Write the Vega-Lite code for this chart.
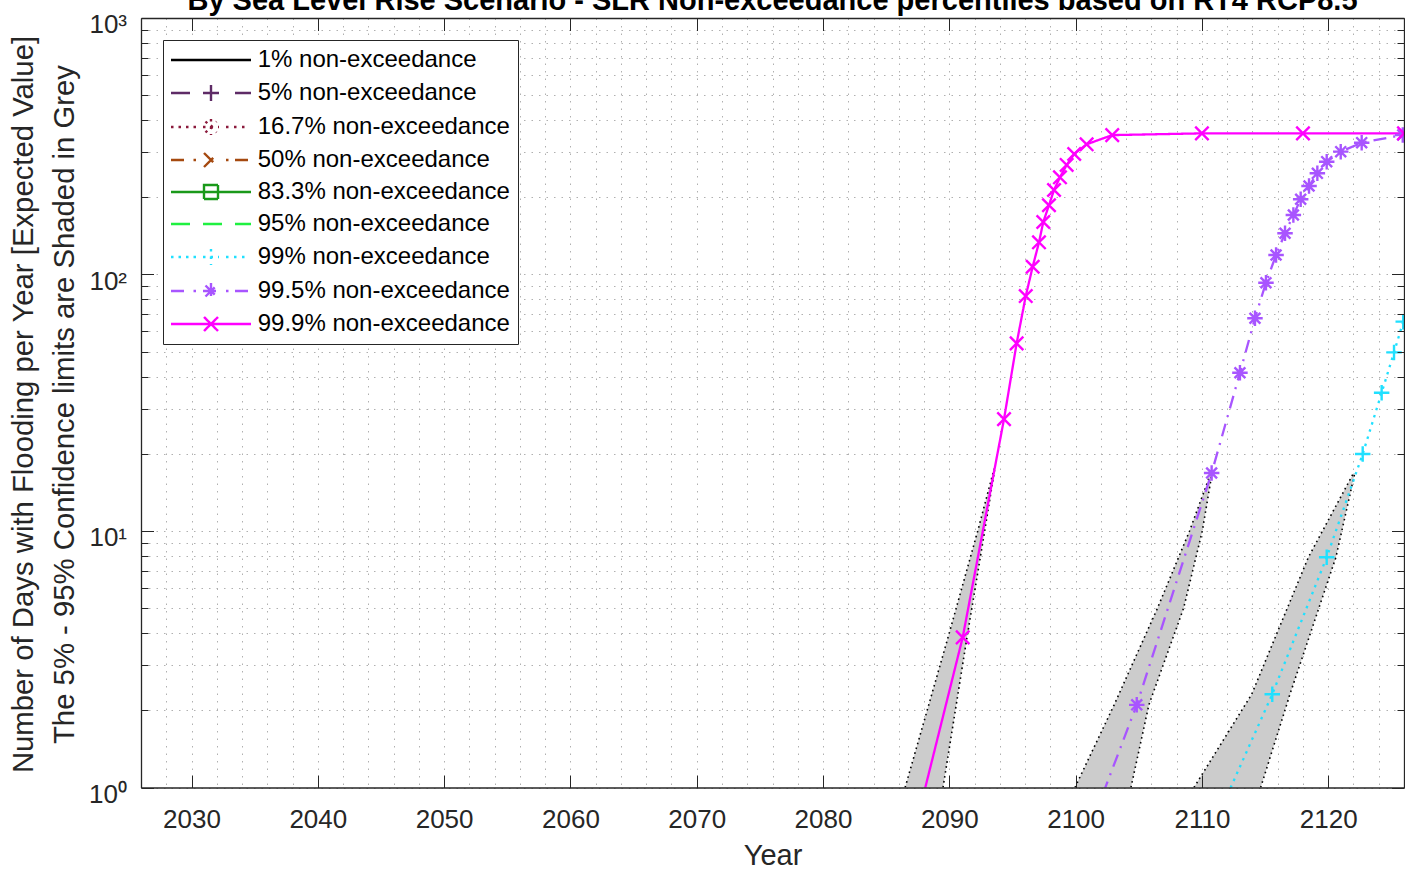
{
  "$schema": "https://vega.github.io/schema/vega-lite/v6.json",
  "width": 1263,
  "height": 769.5,
  "autosize": {"type": "none"},
  "padding": {"left": 141, "top": 18, "right": 1, "bottom": 81.5},
  "background": "white",
  "title": {
    "text": "By Sea Level Rise Scenario - SLR Non-exceedance percentiles based on RT4 RCP8.5",
    "font": "Liberation Sans", "fontSize": 29, "fontWeight": "bold", "color": "black",
    "anchor": "middle", "baseline": "alphabetic", "offset": -27.5
  },
  "config": {
    "view": {"stroke": null},
    "font": "Liberation Sans",
    "legend": {
      "padding": 8, "fillColor": "white", "strokeColor": "#262626", "strokeWidth": 1, "cornerRadius": 0,
      "labelFont": "Liberation Sans", "labelFontSize": 24, "labelColor": "black", "labelLimit": 600,
      "labelOffset": 62.7, "symbolSize": 400, "symbolStrokeWidth": 2.4, "rowPadding": 8
    }
  },
  "datasets": {
    "lines": [
      {"series": "99.9% non-exceedance", "year": 2086.5, "days": 0.483},
      {"series": "99.9% non-exceedance", "year": 2091.06, "days": 3.85},
      {"series": "99.9% non-exceedance", "year": 2094.33, "days": 27.3},
      {"series": "99.9% non-exceedance", "year": 2095.33, "days": 53.9},
      {"series": "99.9% non-exceedance", "year": 2096.05, "days": 82.4},
      {"series": "99.9% non-exceedance", "year": 2096.6, "days": 107.2},
      {"series": "99.9% non-exceedance", "year": 2097.1, "days": 133.5},
      {"series": "99.9% non-exceedance", "year": 2097.44, "days": 160.2},
      {"series": "99.9% non-exceedance", "year": 2097.89, "days": 186.2},
      {"series": "99.9% non-exceedance", "year": 2098.29, "days": 213.5},
      {"series": "99.9% non-exceedance", "year": 2098.76, "days": 239.3},
      {"series": "99.9% non-exceedance", "year": 2099.29, "days": 267.3},
      {"series": "99.9% non-exceedance", "year": 2099.89, "days": 295.0},
      {"series": "99.9% non-exceedance", "year": 2100.87, "days": 321.8},
      {"series": "99.9% non-exceedance", "year": 2102.9, "days": 349.5},
      {"series": "99.9% non-exceedance", "year": 2110.0, "days": 355},
      {"series": "99.9% non-exceedance", "year": 2118.0, "days": 355},
      {"series": "99.9% non-exceedance", "year": 2126.0, "days": 355},
      {"series": "99.5% non-exceedance", "year": 2098.9, "days": 0.357},
      {"series": "99.5% non-exceedance", "year": 2104.84, "days": 2.10},
      {"series": "99.5% non-exceedance", "year": 2110.77, "days": 16.83},
      {"series": "99.5% non-exceedance", "year": 2113.01, "days": 41.4},
      {"series": "99.5% non-exceedance", "year": 2114.2, "days": 67.5},
      {"series": "99.5% non-exceedance", "year": 2115.07, "days": 92.9},
      {"series": "99.5% non-exceedance", "year": 2115.87, "days": 119.1},
      {"series": "99.5% non-exceedance", "year": 2116.58, "days": 144.8},
      {"series": "99.5% non-exceedance", "year": 2117.24, "days": 170.6},
      {"series": "99.5% non-exceedance", "year": 2117.82, "days": 196.5},
      {"series": "99.5% non-exceedance", "year": 2118.48, "days": 221.3},
      {"series": "99.5% non-exceedance", "year": 2119.14, "days": 248.0},
      {"series": "99.5% non-exceedance", "year": 2119.88, "days": 275.3},
      {"series": "99.5% non-exceedance", "year": 2120.99, "days": 301.2},
      {"series": "99.5% non-exceedance", "year": 2122.65, "days": 326.5},
      {"series": "99.5% non-exceedance", "year": 2125.9, "days": 350},
      {"series": "99.5% non-exceedance", "year": 2128.5, "days": 355},
      {"series": "99% non-exceedance", "year": 2111.3, "days": 0.78},
      {"series": "99% non-exceedance", "year": 2115.57, "days": 2.31},
      {"series": "99% non-exceedance", "year": 2119.88, "days": 7.90},
      {"series": "99% non-exceedance", "year": 2122.73, "days": 19.96},
      {"series": "99% non-exceedance", "year": 2124.23, "days": 34.6},
      {"series": "99% non-exceedance", "year": 2125.21, "days": 49.7},
      {"series": "99% non-exceedance", "year": 2125.94, "days": 65.5},
      {"series": "99% non-exceedance", "year": 2126.65, "days": 85}
    ],
    "bands": [
      {"band": "99.9% non-exceedance", "days": 1, "lo": 2086.5, "hi": 2089.5},
      {"band": "99.9% non-exceedance", "days": 3.85, "lo": 2089.9, "hi": 2091.4},
      {"band": "99.9% non-exceedance", "days": 10, "lo": 2092.25, "hi": 2092.8},
      {"band": "99.9% non-exceedance", "days": 17.5, "lo": 2093.55, "hi": 2093.6},
      {"band": "99.5% non-exceedance", "days": 1, "lo": 2099.95, "hi": 2104.38},
      {"band": "99.5% non-exceedance", "days": 2.10, "lo": 2103.05, "hi": 2105.8},
      {"band": "99.5% non-exceedance", "days": 5, "lo": 2106.48, "hi": 2108.55},
      {"band": "99.5% non-exceedance", "days": 10, "lo": 2109.02, "hi": 2110.03},
      {"band": "99.5% non-exceedance", "days": 16.8, "lo": 2110.7, "hi": 2110.8},
      {"band": "99% non-exceedance", "days": 1, "lo": 2109.37, "hi": 2114.65},
      {"band": "99% non-exceedance", "days": 2.31, "lo": 2113.94, "hi": 2116.97},
      {"band": "99% non-exceedance", "days": 7.9, "lo": 2118.43, "hi": 2120.61},
      {"band": "99% non-exceedance", "days": 16.8, "lo": 2122.0, "hi": 2122.1}
    ],
    "bandfill": [
      {"band": "99.9% non-exceedance", "year": 2086.5, "low": 1, "high": 1},
      {"band": "99.9% non-exceedance", "year": 2089.5, "low": 1, "high": 3.29},
      {"band": "99.9% non-exceedance", "year": 2089.9, "low": 1.33, "high": 3.85},
      {"band": "99.9% non-exceedance", "year": 2091.4, "low": 3.85, "high": 7.08},
      {"band": "99.9% non-exceedance", "year": 2092.25, "low": 6.87, "high": 10},
      {"band": "99.9% non-exceedance", "year": 2092.8, "low": 10, "high": 12.67},
      {"band": "99.9% non-exceedance", "year": 2093.55, "low": 16.9, "high": 17.5},
      {"band": "99.9% non-exceedance", "year": 2093.6, "low": 17.5, "high": 17.5},
      {"band": "99.5% non-exceedance", "year": 2099.95, "low": 1, "high": 1},
      {"band": "99.5% non-exceedance", "year": 2103.05, "low": 1, "high": 2.10},
      {"band": "99.5% non-exceedance", "year": 2104.38, "low": 1, "high": 2.94},
      {"band": "99.5% non-exceedance", "year": 2105.8, "low": 2.10, "high": 4.21},
      {"band": "99.5% non-exceedance", "year": 2106.48, "low": 2.60, "high": 5},
      {"band": "99.5% non-exceedance", "year": 2108.55, "low": 5, "high": 8.80},
      {"band": "99.5% non-exceedance", "year": 2109.02, "low": 6.23, "high": 10},
      {"band": "99.5% non-exceedance", "year": 2110.03, "low": 10, "high": 13.66},
      {"band": "99.5% non-exceedance", "year": 2110.7, "low": 15.7, "high": 16.8},
      {"band": "99.5% non-exceedance", "year": 2110.8, "low": 16.8, "high": 16.8},
      {"band": "99% non-exceedance", "year": 2109.37, "low": 1, "high": 1},
      {"band": "99% non-exceedance", "year": 2113.94, "low": 1, "high": 2.31},
      {"band": "99% non-exceedance", "year": 2114.65, "low": 1, "high": 2.81},
      {"band": "99% non-exceedance", "year": 2116.97, "low": 2.31, "high": 5.30},
      {"band": "99% non-exceedance", "year": 2118.43, "low": 3.78, "high": 7.9},
      {"band": "99% non-exceedance", "year": 2120.61, "low": 7.9, "high": 12.52},
      {"band": "99% non-exceedance", "year": 2122.0, "low": 15.97, "high": 16.8},
      {"band": "99% non-exceedance", "year": 2122.1, "low": 16.8, "high": 16.8}
    ]
  },
  "layer": [
    {
      "data": {"name": "lines"},
      "transform": [{"filter": "datum.days < 0"}],
      "mark": {"type": "point", "filled": false, "size": 400, "strokeWidth": 2.4, "opacity": 1},
      "encoding": {
        "x": {"field": "year", "type": "quantitative", "scale": {"domain": [2026, 2126], "nice": false, "zero": false}, "axis": null},
        "y": {"field": "days", "type": "quantitative", "scale": {"type": "log", "domain": [1, 1000], "nice": false}, "axis": null},
        "color": {
          "field": "series", "type": "nominal",
          "scale": {
            "domain": ["1% non-exceedance","5% non-exceedance","16.7% non-exceedance","50% non-exceedance","83.3% non-exceedance","95% non-exceedance","99% non-exceedance","99.5% non-exceedance","99.9% non-exceedance"],
            "range": ["#000000","#5e2b66","#8b1a3c","#a5490f","#1a991a","#1ff040","#20e0ff","#a855ff","#ff00ff"]
          },
          "legend": {"title": null, "orient": "none", "legendX": 22, "legendY": 22, "direction": "vertical"}
        },
        "shape": {
          "field": "series", "type": "nominal",
          "scale": {
            "domain": ["1% non-exceedance","5% non-exceedance","16.7% non-exceedance","50% non-exceedance","83.3% non-exceedance","95% non-exceedance","99% non-exceedance","99.5% non-exceedance","99.9% non-exceedance"],
            "range": [
              "M-1.2,0H6.8",
              "M-1.2,0H0.7M5.2,0H6.8M2.0,0H3.6M2.8,-0.8V0.8",
              "M-1.2,0h0.25M-0.45,0h0.25M0.3,0h0.25M1.05,0h0.25M4.3,0h0.25M5.1,0h0.25M5.9,0h0.25M2.0,0H3.6M2.8,-0.8V0.8M2.25,-0.55L3.35,0.55M2.25,0.55L3.35,-0.55",
              "M-1.2,0H0.2M1.05,0h0.25M4.3,0h0.25M5.2,0H6.8M2.1,-0.7L3.5,0.7M2.1,0.7L3.5,-0.7",
              "M-1.2,0H6.8M2.1,-0.7H3.5V0.7H2.1Z",
              "M-1.2,0H0.7M2.0,0H3.9M5.2,0H6.8",
              "M-1.2,0h0.25M-0.45,0h0.25M0.3,0h0.25M1.05,0h0.25M4.3,0h0.25M5.1,0h0.25M5.9,0h0.25M2.0,0H3.6M2.8,-0.8V0.8",
              "M-1.2,0H0.2M1.05,0h0.25M4.3,0h0.25M5.2,0H6.8M2.0,0H3.6M2.8,-0.8V0.8M2.25,-0.55L3.35,0.55M2.25,0.55L3.35,-0.55",
              "M-1.2,0H6.8M2.1,-0.7L3.5,0.7M2.1,0.7L3.5,-0.7"
            ]
          },
          "legend": {"title": null, "orient": "none", "legendX": 22, "legendY": 22, "direction": "vertical"}
        }
      }
    },
    {
      "data": {"name": "bandfill"},
      "mark": {"type": "area", "color": "#cccccc", "opacity": 1, "clip": true},
      "encoding": {
        "x": {
          "field": "year", "type": "quantitative", "stack": null,
          "scale": {"domain": [2026, 2126], "nice": false, "zero": false},
          "axis": {
            "orient": "bottom",
            "values": [2026,2028,2030,2032,2034,2036,2038,2040,2042,2044,2046,2048,2050,2052,2054,2056,2058,2060,2062,2064,2066,2068,2070,2072,2074,2076,2078,2080,2082,2084,2086,2088,2090,2092,2094,2096,2098,2100,2102,2104,2106,2108,2110,2112,2114,2116,2118,2120,2122,2124,2126],
            "format": "d",
            "labelExpr": "datum.value % 10 === 0 ? datum.label : ''",
            "grid": true, "gridColor": "#b0b0b0", "gridDash": [1.5, 6], "gridWidth": 1,
            "ticks": false, "tickSize": 0, "domain": false,
            "labelFont": "Liberation Sans", "labelFontSize": 26, "labelColor": "#262626",
            "labelPadding": 18.9, "labelOverlap": false, "labelFlush": false, "labelBound": false,
            "title": "Year", "titleFont": "Liberation Sans", "titleFontSize": 29, "titleFontWeight": "normal",
            "titleColor": "#262626", "titleBaseline": "alphabetic", "titleY": 76.7, "zindex": 0
          }
        },
        "y": {
          "field": "low", "type": "quantitative", "stack": null,
          "scale": {"type": "log", "domain": [1, 1000], "nice": false},
          "axis": {
            "orient": "left",
            "values": [1,2,3,4,5,6,7,8,9,10,20,30,40,50,60,70,80,90,100,200,300,400,500,600,700,800,900,1000],
            "labelExpr": "datum.value === 1 ? '10⁰' : datum.value === 10 ? '10¹' : datum.value === 100 ? '10²' : datum.value === 1000 ? '10³' : ''",
            "grid": true, "gridColor": "#b0b0b0", "gridDash": [1.5, 6], "gridWidth": 1,
            "ticks": false, "tickSize": 0, "domain": false,
            "labelFont": "Liberation Sans", "labelFontSize": 26, "labelColor": "#262626",
            "labelPadding": 14.5, "labelAlign": "right", "labelBaseline": "alphabetic", "labelOffset": 14.8,
            "labelOverlap": false, "labelFlush": false, "labelBound": false,
            "title": ["Number of Days with Flooding per Year [Expected Value]", "The 5% - 95% Confidence limits are Shaded in Grey"],
            "titleFont": "Liberation Sans", "titleFontSize": 29.3, "titleFontWeight": "normal", "titleColor": "#262626",
            "titleAngle": -90, "titleAlign": "center", "titleBaseline": "alphabetic", "titleLineHeight": 41,
            "titleX": -108.5, "titleY": 386, "zindex": 0
          }
        },
        "y2": {"field": "high"},
        "detail": {"field": "band"}
      }
    },
    {
      "data": {"name": "bands"},
      "mark": {"type": "line", "color": "black", "strokeWidth": 1.6, "strokeDash": [1.6, 3.4], "clip": true},
      "encoding": {
        "x": {
          "field": "lo", "type": "quantitative",
          "scale": {"domain": [2026, 2126], "nice": false, "zero": false},
          "axis": {
            "orient": "top", "values": [2030,2040,2050,2060,2070,2080,2090,2100,2110,2120],
            "labels": false, "grid": false, "ticks": true, "tickSize": -12.5, "tickColor": "#262626", "tickWidth": 1,
            "domain": true, "domainColor": "#262626", "domainWidth": 1.3, "title": null, "zindex": 1
          }
        },
        "y": {
          "field": "days", "type": "quantitative",
          "scale": {"type": "log", "domain": [1, 1000], "nice": false},
          "axis": {
            "orient": "right",
            "values": [1,2,3,4,5,6,7,8,9,10,20,30,40,50,60,70,80,90,100,200,300,400,500,600,700,800,900,1000],
            "labels": false, "grid": false, "ticks": true,
            "tickSize": {"condition": {"test": "datum.value === 1 || datum.value === 10 || datum.value === 100 || datum.value === 1000", "value": -12.5}, "value": -7},
            "tickColor": "#262626", "tickWidth": 1,
            "domain": true, "domainColor": "#262626", "domainWidth": 1.3, "title": null, "zindex": 1
          }
        },
        "detail": {"field": "band"},
        "order": {"field": "days", "type": "quantitative"}
      }
    },
    {
      "data": {"name": "bands"},
      "mark": {"type": "line", "color": "black", "strokeWidth": 1.6, "strokeDash": [1.6, 3.4], "clip": true},
      "encoding": {
        "x": {
          "field": "hi", "type": "quantitative",
          "scale": {"domain": [2026, 2126], "nice": false, "zero": false},
          "axis": {
            "orient": "bottom", "values": [2030,2040,2050,2060,2070,2080,2090,2100,2110,2120],
            "labels": false, "grid": false, "ticks": true, "tickSize": -12.5, "tickColor": "#262626", "tickWidth": 1,
            "domain": true, "domainColor": "#262626", "domainWidth": 1.3, "title": null, "zindex": 1
          }
        },
        "y": {
          "field": "days", "type": "quantitative",
          "scale": {"type": "log", "domain": [1, 1000], "nice": false},
          "axis": {
            "orient": "left",
            "values": [1,2,3,4,5,6,7,8,9,10,20,30,40,50,60,70,80,90,100,200,300,400,500,600,700,800,900,1000],
            "labels": false, "grid": false, "ticks": true,
            "tickSize": {"condition": {"test": "datum.value === 1 || datum.value === 10 || datum.value === 100 || datum.value === 1000", "value": -12.5}, "value": -7},
            "tickColor": "#262626", "tickWidth": 1,
            "domain": true, "domainColor": "#262626", "domainWidth": 1.3, "title": null, "zindex": 1
          }
        },
        "detail": {"field": "band"},
        "order": {"field": "days", "type": "quantitative"}
      }
    },
    {
      "data": {"name": "lines"},
      "mark": {"type": "line", "strokeWidth": 2.3, "clip": true},
      "encoding": {
        "x": {"field": "year", "type": "quantitative", "scale": {"domain": [2026, 2126], "nice": false, "zero": false}, "axis": null},
        "y": {"field": "days", "type": "quantitative", "scale": {"type": "log", "domain": [1, 1000], "nice": false}, "axis": null},
        "color": {"field": "series", "type": "nominal", "legend": null},
        "strokeDash": {
          "field": "series", "type": "nominal", "legend": null,
          "scale": {
            "domain": ["1% non-exceedance","5% non-exceedance","16.7% non-exceedance","50% non-exceedance","83.3% non-exceedance","95% non-exceedance","99% non-exceedance","99.5% non-exceedance","99.9% non-exceedance"],
            "range": [[1,0],[19,13],[2.5,5],[13,7,2,7],[1,0],[19,13],[2.5,5],[13,7,2,7],[1,0]]
          }
        }
      }
    },
    {
      "data": {"name": "lines"},
      "transform": [{"filter": {"field": "series", "oneOf": ["5% non-exceedance", "99% non-exceedance"]}}],
      "mark": {"type": "point", "shape": "M-1,0H1M0,-1V1", "size": 240, "filled": false, "strokeWidth": 2.4, "opacity": 1, "clip": true},
      "encoding": {
        "x": {"field": "year", "type": "quantitative", "scale": {"domain": [2026, 2126], "nice": false, "zero": false}, "axis": null},
        "y": {"field": "days", "type": "quantitative", "scale": {"type": "log", "domain": [1, 1000], "nice": false}, "axis": null},
        "color": {"field": "series", "type": "nominal", "legend": null}
      }
    },
    {
      "data": {"name": "lines"},
      "transform": [{"filter": {"field": "series", "oneOf": ["16.7% non-exceedance", "99.5% non-exceedance"]}}],
      "mark": {"type": "point", "shape": "M-1,0H1M0,-1V1M-0.7,-0.7L0.7,0.7M-0.7,0.7L0.7,-0.7", "size": 240, "filled": false, "strokeWidth": 2.4, "opacity": 1, "clip": true},
      "encoding": {
        "x": {"field": "year", "type": "quantitative", "scale": {"domain": [2026, 2126], "nice": false, "zero": false}, "axis": null},
        "y": {"field": "days", "type": "quantitative", "scale": {"type": "log", "domain": [1, 1000], "nice": false}, "axis": null},
        "color": {"field": "series", "type": "nominal", "legend": null}
      }
    },
    {
      "data": {"name": "lines"},
      "transform": [{"filter": {"field": "series", "oneOf": ["50% non-exceedance", "99.9% non-exceedance"]}}],
      "mark": {"type": "point", "shape": "M-1,-1L1,1M-1,1L1,-1", "size": 180, "filled": false, "strokeWidth": 2.4, "opacity": 1, "clip": true},
      "encoding": {
        "x": {"field": "year", "type": "quantitative", "scale": {"domain": [2026, 2126], "nice": false, "zero": false}, "axis": null},
        "y": {"field": "days", "type": "quantitative", "scale": {"type": "log", "domain": [1, 1000], "nice": false}, "axis": null},
        "color": {"field": "series", "type": "nominal", "legend": null}
      }
    }
  ],
  "resolve": {"axis": {"x": "independent", "y": "independent"}}
}
